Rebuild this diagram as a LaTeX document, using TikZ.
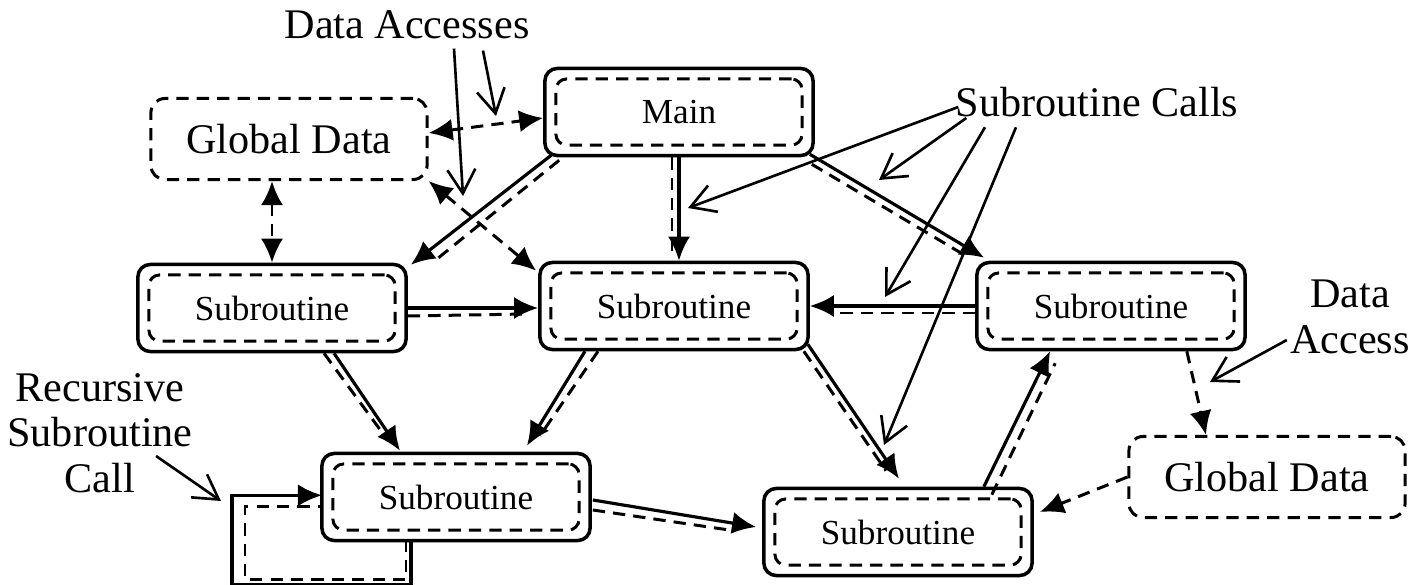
\documentclass[tikz,border=0pt]{standalone}
\usepackage{fontspec}
\setmainfont{Liberation Serif}
\usepackage{tikz}
\usetikzlibrary{arrows.meta, positioning}

\begin{document}
\begin{tikzpicture}[x=0.01cm, y=-0.01cm,
    >={Latex[length=2.4mm,width=2.2mm]},
    subbox/.style={draw, line width=1pt, rounded corners=3.5pt, minimum width=2.68cm, minimum height=0.87cm, font=\fontsize{10}{12}\selectfont},
    innerbox/.style={draw, line width=0.85pt, dash pattern=on 3.5pt off 2.3pt, rounded corners=3pt, minimum width=2.46cm, minimum height=0.66cm},
    databox/.style={draw, line width=0.85pt, dash pattern=on 3.5pt off 2.3pt, rounded corners=4pt, minimum width=2.76cm, minimum height=0.81cm, font=\fontsize{12}{14}\selectfont},
    call/.style={line width=0.9pt, ->},
    calldash/.style={line width=0.85pt, dash pattern=on 3.5pt off 2.3pt},
    access/.style={line width=0.85pt, dash pattern=on 3.5pt off 2.3pt},
    note/.style={line width=0.75pt, -{Straight Barb[length=2.4mm,width=2.8mm]}},
    lbl/.style={font=\fontsize{12}{13}\selectfont, align=center}]

    \useasboundingbox (0,0) rectangle (1420,585);

    % data boxes
    \node[databox] (gdl) at (289,139) {Global Data};
    \node[databox] (gdr) at (1267,477) {Global Data};

    % routines
    \node[subbox] (main) at (679,112) {Main};
    \node[innerbox] (maini) at (main) {};
    \node[subbox] (sub1) at (272,308) {Subroutine};
    \node[innerbox] (sub1i) at (sub1) {};
    \node[subbox] (sub2) at (674,306) {Subroutine};
    \node[innerbox] (sub2i) at (sub2) {};
    \node[subbox] (sub3) at (1111,306) {Subroutine};
    \node[innerbox] (sub3i) at (sub3) {};
    \node[subbox] (sub4) at (456,497) {Subroutine};
    \node[innerbox] (sub4i) at (sub4) {};
    \node[subbox] (sub5) at (898,532) {Subroutine};
    \node[innerbox] (sub5i) at (sub5) {};

    % labels
    \node[lbl] (lblacc) at (407,25) {Data Accesses};
    \node[lbl] (lblcall) at (1097,102) {Subroutine Calls};
    \node[lbl] (lbldata) at (1350,317) {Data\\Access};
    \node[lbl] (lblrec) at (100,433) {Recursive\\Subroutine\\Call};

    % calls
    \draw[call] ([shift={(8,-2)}]main.south west) -- ([shift={(3,2)}]sub1.north east);
    \draw[calldash] ([shift={(16,3)}]main.south west) -- ([shift={(27,-2)}]sub1.north east);
    \draw[call] (main.south) -- ([shift={(5,0)}]sub2.north);
    \draw[calldash] ([shift={(-7,0)}]main.south) -- ([shift={(-2,-8)}]sub2.north);
    \draw[call] ([shift={(-5,-3)}]main.south east) -- ([shift={(9,-3)}]sub3.north west);
    \draw[calldash] ([shift={(-3,7)}]main.south east) -- ([shift={(-13,-7)}]sub3.north west);

    \draw[call] (sub1.east) -- ([shift={(0,2)}]sub2.west);
    \draw[calldash] ([shift={(0,8)}]sub1.east) -- ([shift={(-12,8)}]sub2.west);
    \draw[call] (sub3.west) -- (sub2.east);
    \draw[calldash] ([shift={(0,7)}]sub3.west) -- ([shift={(22,7)}]sub2.east);

    \draw[call] ([shift={(62,0)}]sub1.south) -- ([shift={(-56,-1)}]sub4.north);
    \draw[calldash] ([shift={(52,0)}]sub1.south) -- ([shift={(-70,-14)}]sub4.north);
    \draw[call] ([shift={(-89,0)}]sub2.south) -- ([shift={(71,-6)}]sub4.north);
    \draw[calldash] ([shift={(-76,0)}]sub2.south) -- ([shift={(84,-16)}]sub4.north);
    \draw[call] ([shift={(-2,-7)}]sub2.south east) -- ([shift={(1,-8)}]sub5.north);
    \draw[calldash] ([shift={(-6,0)}]sub2.south east) -- ([shift={(-12,-16)}]sub5.north);

    \draw[call] ([shift={(1,3)}]sub4.east) -- ([shift={(-6,-5)}]sub5.west);
    \draw[calldash] ([shift={(1,13)}]sub4.east) -- ([shift={(-33,-2)}]sub5.west);
    \draw[call] ([shift={(-50,0)}]sub5.north east) -- ([shift={(75,0)}]sub3.south west);
    \draw[calldash] ([shift={(-42,8)}]sub5.north east) -- ([shift={(80,12)}]sub3.south west);

    % recursive call
    \draw[call, line join=miter] ([shift={(-45,0)}]sub4.south) -- ++(0,42) -- ++(-179,0) -- ++(0,-89) -- ++(90,0);
    \draw[calldash] ([shift={(-50,-3)}]sub4.south) -- ++(0,40) -- ++(-161,0) -- ++(0,-73) -- ++(77,0);

    % data accesses
    \draw[access, <->] ([shift={(0,-6)}]gdl.east) -- ([shift={(0,6)}]main.west);
    \draw[access, <->] ([shift={(-17,0)}]gdl.south) -- (sub1.north);
    \draw[access, <->] (gdl.south east) -- ([shift={(-2,10)}]sub2.north west);
    \draw[access, ->] ([shift={(-60,0)}]sub3.south east) -- ([shift={(-61,0)}]gdr.north);
    \draw[access, ->] (gdr.west) -- ([shift={(6,-20)}]sub5.east);

    % pointers from the labels
    \coordinate (acc1) at (463,196);
    \coordinate (acc2) at (496,116);
    \coordinate (callA) at (688,208);
    \coordinate (callB) at (879,180);
    \coordinate (callC) at (885,297);
    \coordinate (callD) at (884,445);
    \coordinate (dacc) at (1210,382);
    \coordinate (rec) at (221,501);
    \draw[note] ([shift={(47,-3)}]lblacc.south) -- (acc1);
    \draw[note] ([shift={(76,-1)}]lblacc.south) -- (acc2);
    \draw[note] ([shift={(15,5)}]lblcall.west) -- (callA);
    \draw[note] ([shift={(23,16)}]lblcall.west) -- (callB);
    \draw[note] ([shift={(-112,-2)}]lblcall.south) -- (callC);
    \draw[note] ([shift={(-81,-2)}]lblcall.south) -- (callD);
    \draw[note] ([shift={(9,23)}]lbldata.west) -- (dacc);
    \draw[note] ([shift={(-49,23)}]lblrec.east) -- (rec);
\end{tikzpicture}
\end{document}
